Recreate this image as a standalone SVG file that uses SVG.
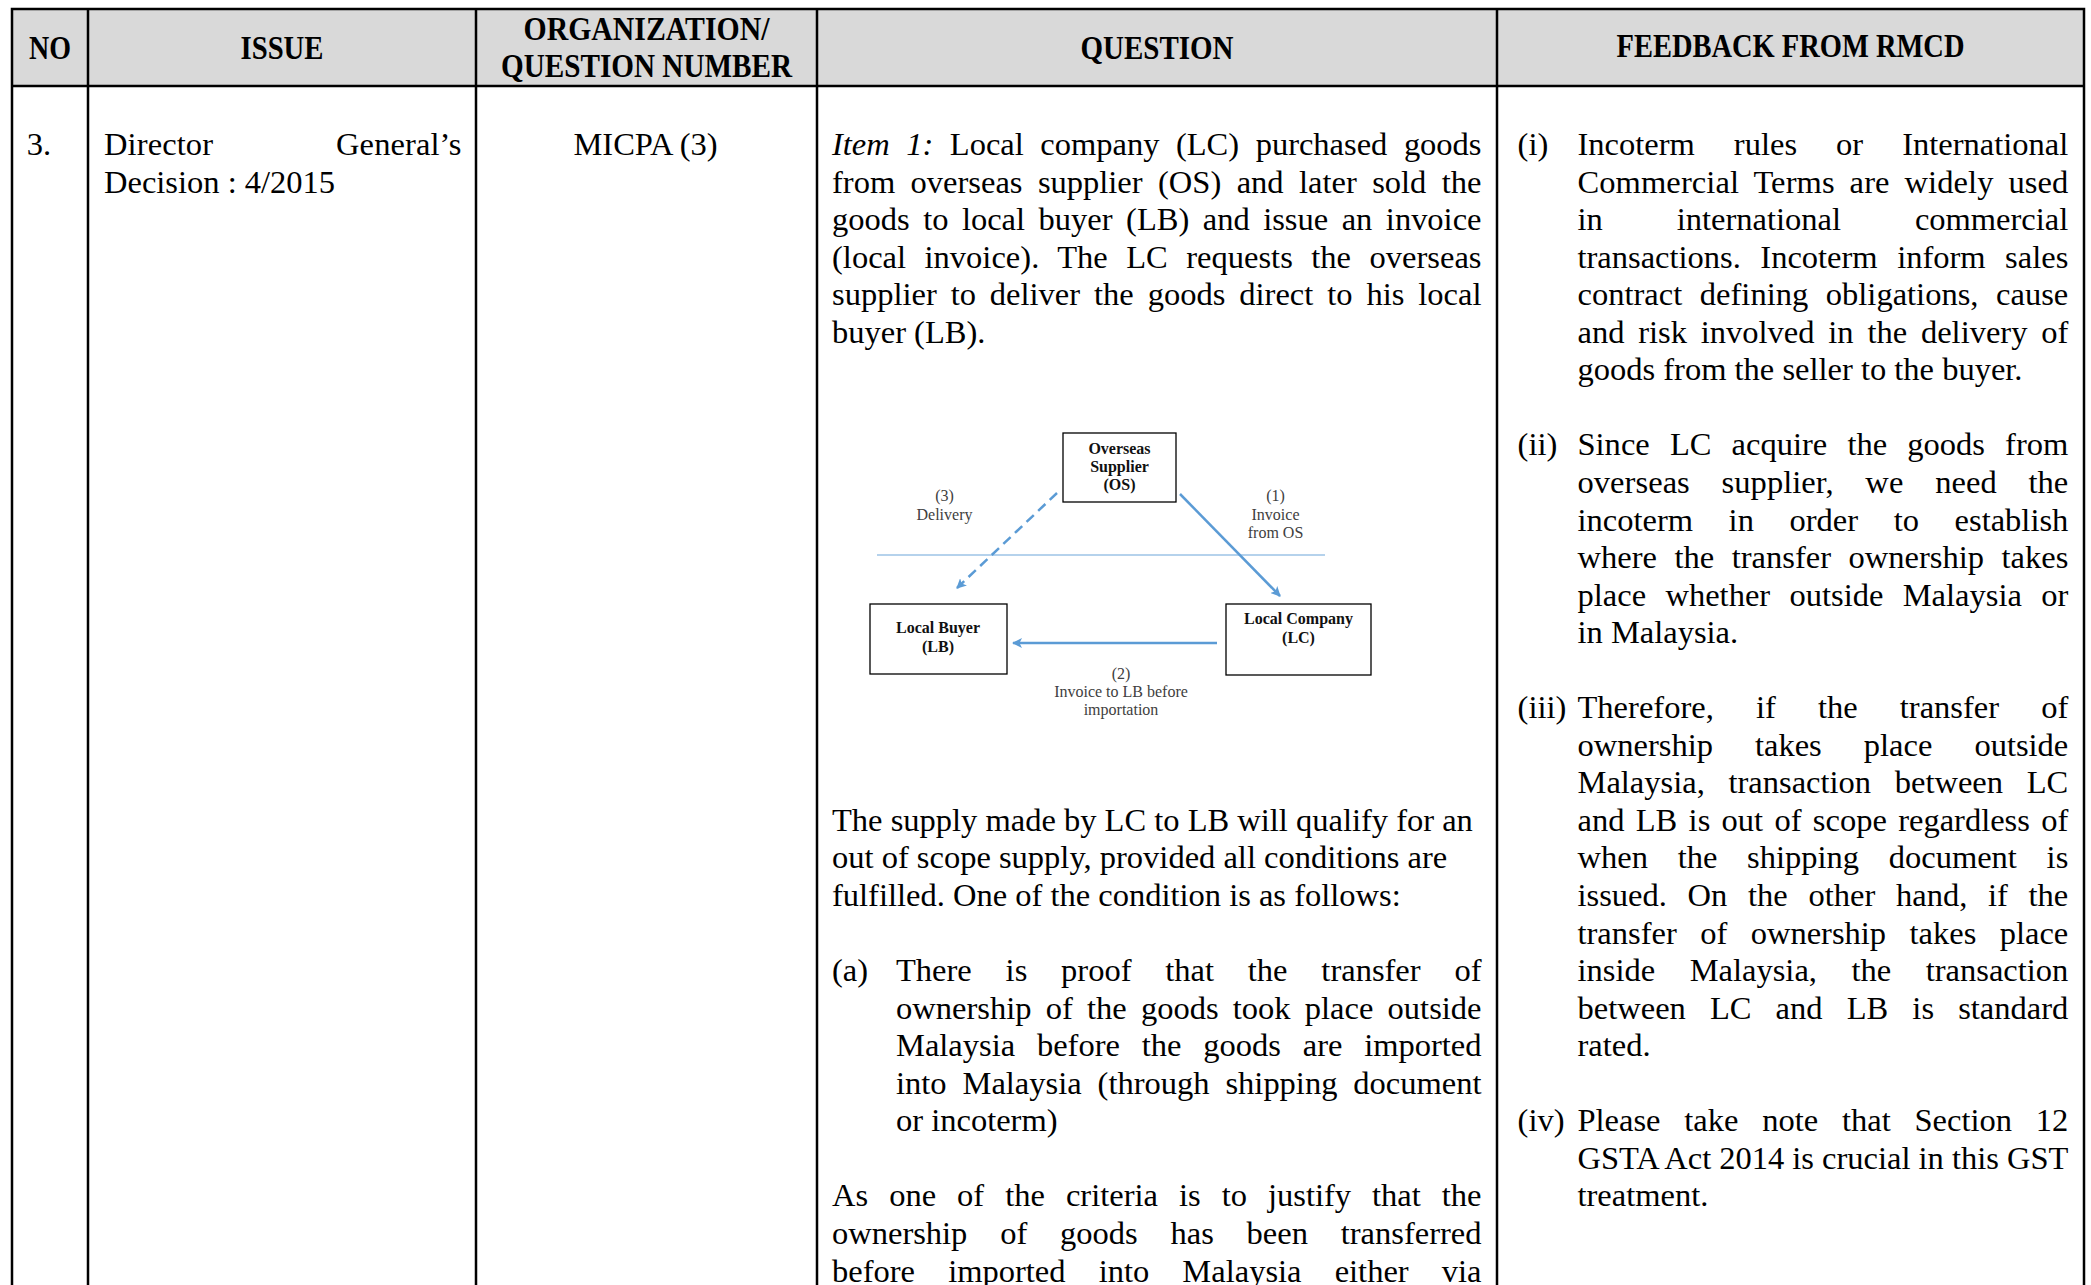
<svg xmlns="http://www.w3.org/2000/svg" width="2091" height="1285" viewBox="0 0 2091 1285">
<style>
.t{font-family:"Liberation Serif","Times New Roman",serif;font-size:32.5px;fill:#000}
.h{font-family:"Liberation Serif","Times New Roman",serif;font-size:34px;font-weight:bold;fill:#000;text-anchor:middle}
.bd{fill:none;stroke:#000;stroke-width:2.5}
.box{fill:#fff;stroke:#000;stroke-width:1.3}
.nt{font-family:"Liberation Serif","Times New Roman",serif;font-size:16px;font-weight:bold;fill:#111;text-anchor:middle}
.lb{font-family:"Liberation Serif","Times New Roman",serif;font-size:16px;fill:#404040;text-anchor:middle}
.ar{fill:none;stroke:#5b9bd5;stroke-width:2.5;marker-end:url(#ah)}
.i{font-style:italic}
</style>
<defs>
<marker id="ah" viewBox="0 0 10 10" refX="9" refY="5" markerWidth="4" markerHeight="4" orient="auto" markerUnits="strokeWidth"><path d="M0,0 L10,5 L0,10 L2.5,5 z" fill="#5b9bd5"/></marker>
</defs>
<rect width="2091" height="1285" fill="#fff"/>

<g id="table">
<rect x="12" y="9" width="2072" height="77" fill="#d9d9d9"/>
<path class="bd" d="M12,1285 V9 H2084 V1285 M12,86 H2084 M88,9 V1285 M476,9 V1285 M817,9 V1285 M1497,9 V1285"/>
</g>

<g id="header">
<text class="h" x="50" y="59" textLength="42" lengthAdjust="spacingAndGlyphs">NO</text>
<text class="h" x="282" y="59" textLength="83" lengthAdjust="spacingAndGlyphs">ISSUE</text>
<text class="h" x="646.5" y="40" textLength="246" lengthAdjust="spacingAndGlyphs">ORGANIZATION/</text>
<text class="h" x="646.5" y="77" textLength="291" lengthAdjust="spacingAndGlyphs">QUESTION NUMBER</text>
<text class="h" x="1157" y="59" textLength="153" lengthAdjust="spacingAndGlyphs">QUESTION</text>
<text class="h" x="1790.5" y="57" textLength="348" lengthAdjust="spacingAndGlyphs">FEEDBACK FROM RMCD</text>
</g>

<g id="col-no">
<text class="t" x="26.7" y="155">3.</text>
</g>

<g id="col-issue">
<text class="t" x="104" y="155" style="word-spacing:114.7px" textLength="357.4" lengthAdjust="spacing">Director General’s</text>
<text class="t" x="104" y="192.55">Decision : 4/2015</text>
</g>

<g id="col-org">
<text class="t" x="645.5" y="155" text-anchor="middle">MICPA (3)</text>
</g>

<g id="col-question">
<text class="t" x="832" y="155" style="word-spacing:8.4px" textLength="649.5" lengthAdjust="spacing"><tspan class="i">Item 1:</tspan> Local company (LC) purchased goods</text>
<text class="t" x="832" y="192.55" style="word-spacing:7.3px" textLength="649.5" lengthAdjust="spacing">from overseas supplier (OS) and later sold the</text>
<text class="t" x="832" y="230.1" style="word-spacing:5.4px" textLength="649.5" lengthAdjust="spacing">goods to local buyer (LB) and issue an invoice</text>
<text class="t" x="832" y="267.65" style="word-spacing:10.3px" textLength="649.5" lengthAdjust="spacing">(local invoice). The LC requests the overseas</text>
<text class="t" x="832" y="305.2" style="word-spacing:5.8px" textLength="649.5" lengthAdjust="spacing">supplier to deliver the goods direct to his local</text>
<text class="t" x="832" y="342.75">buyer (LB).</text>

<text class="t" x="832" y="830.9">The supply made by LC to LB will qualify for an</text>
<text class="t" x="832" y="868.45">out of scope supply, provided all conditions are</text>
<text class="t" x="832" y="906">fulfilled. One of the condition is as follows:</text>

<text class="t" x="832" y="981.1">(a)</text>
<text class="t" x="896" y="981.1" style="word-spacing:25.7px" textLength="585.5" lengthAdjust="spacing">There is proof that the transfer of</text>
<text class="t" x="896" y="1018.65" style="word-spacing:6.1px" textLength="585.5" lengthAdjust="spacing">ownership of the goods took place outside</text>
<text class="t" x="896" y="1056.2" style="word-spacing:13.7px" textLength="585.5" lengthAdjust="spacing">Malaysia before the goods are imported</text>
<text class="t" x="896" y="1093.75" style="word-spacing:7.8px" textLength="585.5" lengthAdjust="spacing">into Malaysia (through shipping document</text>
<text class="t" x="896" y="1131.3">or incoterm)</text>

<text class="t" x="832" y="1206.4" style="word-spacing:12.9px" textLength="649.5" lengthAdjust="spacing">As one of the criteria is to justify that the</text>
<text class="t" x="832" y="1243.95" style="word-spacing:24.7px" textLength="649.5" lengthAdjust="spacing">ownership of goods has been transferred</text>
<text class="t" x="832" y="1281.5" style="word-spacing:25px" textLength="649.5" lengthAdjust="spacing">before imported into Malaysia either via</text>
</g>

<g id="col-feedback">
<text class="t" x="1517.6" y="155">(i)</text>
<text class="t" x="1577.5" y="155" style="word-spacing:30.9px" textLength="490.8" lengthAdjust="spacing">Incoterm rules or International</text>
<text class="t" x="1577.5" y="192.55" style="word-spacing:6.7px" textLength="490.8" lengthAdjust="spacing">Commercial Terms are widely used</text>
<text class="t" x="1577.5" y="230.1" style="word-spacing:65.8px" textLength="490.8" lengthAdjust="spacing">in international commercial</text>
<text class="t" x="1577.5" y="267.65" style="word-spacing:11.4px" textLength="490.8" lengthAdjust="spacing">transactions. Incoterm inform sales</text>
<text class="t" x="1577.5" y="305.2" style="word-spacing:9.5px" textLength="490.8" lengthAdjust="spacing">contract defining obligations, cause</text>
<text class="t" x="1577.5" y="342.75" style="word-spacing:5.7px" textLength="490.8" lengthAdjust="spacing">and risk involved in the delivery of</text>
<text class="t" x="1577.5" y="380.3">goods from the seller to the buyer.</text>

<text class="t" x="1517.6" y="455.4">(ii)</text>
<text class="t" x="1577.5" y="455.4" style="word-spacing:12px" textLength="490.8" lengthAdjust="spacing">Since LC acquire the goods from</text>
<text class="t" x="1577.5" y="492.95" style="word-spacing:23.6px" textLength="490.8" lengthAdjust="spacing">overseas supplier, we need the</text>
<text class="t" x="1577.5" y="530.5" style="word-spacing:27.5px" textLength="490.8" lengthAdjust="spacing">incoterm in order to establish</text>
<text class="t" x="1577.5" y="568.05" style="word-spacing:9.4px" textLength="490.8" lengthAdjust="spacing">where the transfer ownership takes</text>
<text class="t" x="1577.5" y="605.6" style="word-spacing:11.2px" textLength="490.8" lengthAdjust="spacing">place whether outside Malaysia or</text>
<text class="t" x="1577.5" y="643.15">in Malaysia.</text>

<text class="t" x="1517.6" y="718.25">(iii)</text>
<text class="t" x="1577.5" y="718.25" style="word-spacing:34px" textLength="490.8" lengthAdjust="spacing">Therefore, if the transfer of</text>
<text class="t" x="1577.5" y="755.8" style="word-spacing:33.9px" textLength="490.8" lengthAdjust="spacing">ownership takes place outside</text>
<text class="t" x="1577.5" y="793.35" style="word-spacing:15.6px" textLength="490.8" lengthAdjust="spacing">Malaysia, transaction between LC</text>
<text class="t" x="1577.5" y="830.9" style="word-spacing:3.2px" textLength="490.8" lengthAdjust="spacing">and LB is out of scope regardless of</text>
<text class="t" x="1577.5" y="868.45" style="word-spacing:21.6px" textLength="490.8" lengthAdjust="spacing">when the shipping document is</text>
<text class="t" x="1577.5" y="906" style="word-spacing:12.6px" textLength="490.8" lengthAdjust="spacing">issued. On the other hand, if the</text>
<text class="t" x="1577.5" y="943.55" style="word-spacing:15.3px" textLength="490.8" lengthAdjust="spacing">transfer of ownership takes place</text>
<text class="t" x="1577.5" y="981.1" style="word-spacing:26.4px" textLength="490.8" lengthAdjust="spacing">inside Malaysia, the transaction</text>
<text class="t" x="1577.5" y="1018.65" style="word-spacing:16px" textLength="490.8" lengthAdjust="spacing">between LC and LB is standard</text>
<text class="t" x="1577.5" y="1056.2">rated.</text>

<text class="t" x="1517.6" y="1131.3">(iv)</text>
<text class="t" x="1577.5" y="1131.3" style="word-spacing:15.7px" textLength="490.8" lengthAdjust="spacing">Please take note that Section 12</text>
<text class="t" x="1577.5" y="1168.85" textLength="490.8" lengthAdjust="spacing">GSTA Act 2014 is crucial in this GST</text>
<text class="t" x="1577.5" y="1206.4">treatment.</text>
</g>

<g id="diagram">
<line x1="877" y1="555" x2="1325" y2="555" stroke="#9dc3e6" stroke-width="1.6"/>
<g id="node-os">
<rect class="box" x="1063" y="433" width="113" height="69"/>
<text class="nt" x="1119.5" y="454">Overseas</text>
<text class="nt" x="1119.5" y="472">Supplier</text>
<text class="nt" x="1119.5" y="490">(OS)</text>
</g>
<g id="node-lb">
<rect class="box" x="870" y="604" width="137" height="70"/>
<text class="nt" x="938" y="633">Local Buyer</text>
<text class="nt" x="938" y="652">(LB)</text>
</g>
<g id="node-lc">
<rect class="box" x="1226" y="604" width="145" height="71"/>
<text class="nt" x="1298.5" y="624">Local Company</text>
<text class="nt" x="1298.5" y="643">(LC)</text>
</g>
<g id="connectors">
<line class="ar" x1="1180" y1="494" x2="1280" y2="596"/>
<line class="ar" x1="1217" y1="643" x2="1013" y2="643"/>
<line class="ar" x1="1057" y1="493" x2="957" y2="588" stroke-dasharray="10 6"/>
<text class="lb" x="944.5" y="501">(3)</text>
<text class="lb" x="944.5" y="519.5">Delivery</text>
<text class="lb" x="1275.5" y="501">(1)</text>
<text class="lb" x="1275.5" y="519.5">Invoice</text>
<text class="lb" x="1275.5" y="538">from OS</text>
<text class="lb" x="1121" y="679">(2)</text>
<text class="lb" x="1121" y="697">Invoice to LB before</text>
<text class="lb" x="1121" y="715">importation</text>
</g>
</g>
</svg>
